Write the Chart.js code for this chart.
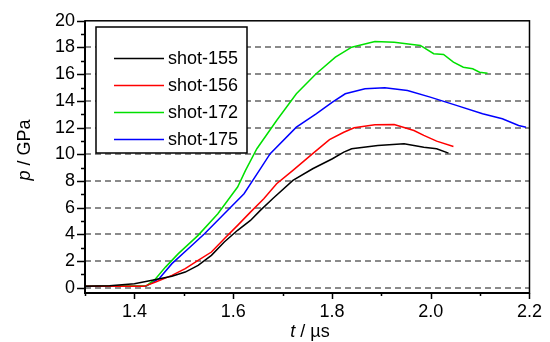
<!DOCTYPE html>
<html>
<head>
<meta charset="utf-8">
<script src="https://cdn.jsdelivr.net/npm/chart.js@4.4.0/dist/chart.umd.min.js"></script>
<style>
  html, body { margin: 0; padding: 0; background: #fff; }
  #wrap { width: 550px; height: 342px; }
</style>
</head>
<body>
<div id="wrap"><canvas id="chart"></canvas></div>
<script>
// values (t in µs, p in GPa)
const t155 = [1.30, 1.35, 1.40, 1.436, 1.476, 1.503, 1.529, 1.556, 1.582, 1.609, 1.635, 1.655, 1.681, 1.721, 1.761, 1.801, 1.824, 1.84, 1.893, 1.946, 1.986, 2.012, 2.036];
const p155 = [0.1, 0.15, 0.3, 0.55, 0.85, 1.17, 1.67, 2.42, 3.42, 4.3, 5.04, 5.79, 6.7, 8.04, 8.91, 9.66, 10.16, 10.41, 10.66, 10.79, 10.53, 10.41, 10.08];

const t156 = [1.30, 1.42, 1.443, 1.476, 1.503, 1.529, 1.556, 1.582, 1.609, 1.635, 1.662, 1.688, 1.721, 1.761, 1.795, 1.824, 1.845, 1.887, 1.926, 1.966, 1.986, 2.012, 2.046];
const p156 = [0.1, 0.1, 0.42, 0.92, 1.42, 2.04, 2.67, 3.67, 4.67, 5.66, 6.67, 7.79, 8.79, 10.04, 11.1, 11.65, 11.98, 12.21, 12.23, 11.78, 11.41, 10.98, 10.58];

const t172 = [1.30, 1.425, 1.443, 1.463, 1.489, 1.529, 1.569, 1.609, 1.625, 1.648, 1.688, 1.728, 1.768, 1.807, 1.84, 1.887, 1.926, 1.979, 2.006, 2.026, 2.046, 2.066, 2.085, 2.099, 2.115];
const p172 = [0.1, 0.15, 0.67, 1.54, 2.55, 3.92, 5.54, 7.54, 8.79, 10.41, 12.53, 14.53, 16.03, 17.27, 18.02, 18.45, 18.4, 18.15, 17.53, 17.48, 16.9, 16.52, 16.4, 16.15, 16.07];

const t175 = [1.30, 1.423, 1.45, 1.476, 1.509, 1.542, 1.582, 1.622, 1.655, 1.675, 1.728, 1.768, 1.801, 1.827, 1.867, 1.907, 1.953, 1.999, 2.052, 2.105, 2.145, 2.178, 2.193];
const p175 = [0.1, 0.1, 0.67, 1.8, 2.92, 4.04, 5.54, 7.04, 8.9, 10.04, 12.03, 13.03, 13.9, 14.53, 14.9, 14.98, 14.78, 14.28, 13.66, 13.03, 12.66, 12.16, 12.03];

const seriesNames = ["shot-155", "shot-156", "shot-172", "shot-175"];
const seriesColors = ["#000000", "#ff0000", "#00e000", "#0000ff"];
const xTicks = [1.4, 1.6, 1.8, 2.0, 2.2];
const yTicks = [0, 2, 4, 6, 8, 10, 12, 14, 16, 18, 20];

const FONT = '"Liberation Sans", Arial, sans-serif';
const FSIZE = 18;

const toPoints = (ts, ps) => ts.map((t, i) => ({ x: t, y: ps[i] }));
const allSeries = [toPoints(t155, p155), toPoints(t156, p156), toPoints(t172, p172), toPoints(t175, p175)];

// frame, tick marks, legend and axis titles
const decorations = {
  id: "decorations",
  afterDatasetsDraw(chart) {
    const ctx = chart.ctx;
    const area = chart.chartArea;
    const xs = chart.scales.x;
    const ys = chart.scales.y;
    ctx.save();
    ctx.strokeStyle = "#000";

    // frame
    ctx.lineWidth = 1.5;
    ctx.strokeRect(area.left, area.top, area.right - area.left, area.bottom - area.top);
    ctx.lineWidth = 2;
    ctx.beginPath();
    ctx.moveTo(area.left, area.top);
    ctx.lineTo(area.left, area.bottom);
    ctx.lineTo(area.right, area.bottom);
    ctx.stroke();

    // tick marks, major and minor
    ctx.lineWidth = 1.5;
    ctx.beginPath();
    for (let v = 0; v <= 20; v++) {
      const y = Math.round(ys.getPixelForValue(v)) + 0.5;
      const len = v % 2 === 0 ? 8 : 4;
      ctx.moveTo(area.left - len, y);
      ctx.lineTo(area.left, y);
    }
    for (let k = 13; k <= 22; k++) {
      const x = Math.round(xs.getPixelForValue(k / 10)) + 0.5;
      const len = k % 2 === 0 ? 6 : 3;
      ctx.moveTo(x, area.bottom);
      ctx.lineTo(x, area.bottom + len);
    }
    ctx.stroke();

    // legend box
    const lx = 96, ly = 27, lw = 151, lh = 126;
    ctx.fillStyle = "#fff";
    ctx.fillRect(lx, ly, lw, lh);
    ctx.lineWidth = 1.5;
    ctx.strokeStyle = "#000";
    ctx.strokeRect(lx, ly, lw, lh);
    ctx.font = FSIZE + "px " + FONT;
    ctx.textBaseline = "middle";
    ctx.textAlign = "left";
    chart.data.datasets.forEach((ds, i) => {
      const y = 58.5 + i * 27;
      ctx.strokeStyle = ds.borderColor;
      ctx.lineWidth = 1.5;
      ctx.beginPath();
      ctx.moveTo(114, y);
      ctx.lineTo(164, y);
      ctx.stroke();
      ctx.fillStyle = "#000";
      ctx.fillText(ds.label, 168, y + 1);
    });

    // axis titles with italic symbols
    ctx.fillStyle = "#000";
    ctx.textBaseline = "alphabetic";
    const drawMixed = (parts, cx, cy) => {
      let total = 0;
      parts.forEach((p) => { ctx.font = p[1] + " " + FSIZE + "px " + FONT; total += ctx.measureText(p[0]).width; });
      let x = cx - total / 2;
      parts.forEach((p) => {
        ctx.font = p[1] + " " + FSIZE + "px " + FONT;
        ctx.fillText(p[0], x, cy);
        x += ctx.measureText(p[0]).width;
      });
    };
    drawMixed([["t", "italic"], [" / \u00b5s", "normal"]], 310, 337);
    ctx.save();
    ctx.translate(30, 150);
    ctx.rotate(-Math.PI / 2);
    drawMixed([["p", "italic"], [" / GPa", "normal"]], 0, 0);
    ctx.restore();

    ctx.restore();
  },
};

new Chart(document.getElementById("chart"), {
  type: "line",
  data: {
    datasets: seriesNames.map((name, i) => ({
      label: name,
      data: allSeries[i],
      borderColor: seriesColors[i],
      borderWidth: 1.5,
      pointRadius: 0,
      tension: 0,
      fill: false,
    })),
  },
  options: {
    responsive: true,
    maintainAspectRatio: false,
    animation: false,
    layout: { padding: { top: 19.5, right: 12, left: 0, bottom: 0 } },
    plugins: {
      legend: { display: false },
      tooltip: { enabled: false },
    },
    scales: {
      x: {
        type: "linear",
        min: 1.3,
        max: 2.2,
        afterBuildTicks: (scale) => { scale.ticks = xTicks.map((v) => ({ value: v })); },
        afterFit: (scale) => { scale.height = 49; },
        grid: { display: false, drawTicks: false },
        border: { display: false },
        ticks: {
          color: "#000",
          padding: 8,
          maxRotation: 0,
          autoSkip: false,
          font: { family: FONT, size: FSIZE },
          callback: (v) => Number(v).toFixed(1),
        },
      },
      y: {
        type: "linear",
        min: -0.4,
        max: 20,
        afterBuildTicks: (scale) => { scale.ticks = yTicks.map((v) => ({ value: v })); },
        afterFit: (scale) => { scale.width = 85; },
        grid: {
          drawTicks: false,
          lineWidth: 2,
          color: (c) => (c.tick && c.tick.value === 20 ? "rgba(0,0,0,0)" : "#8a8a8a"),
        },
        border: { display: false, dash: [6, 4] },
        ticks: {
          color: "#000",
          padding: 10,
          autoSkip: false,
          font: { family: FONT, size: FSIZE },
          callback: (v) => String(v),
        },
      },
    },
  },
  plugins: [decorations],
});
</script>
</body>
</html>
